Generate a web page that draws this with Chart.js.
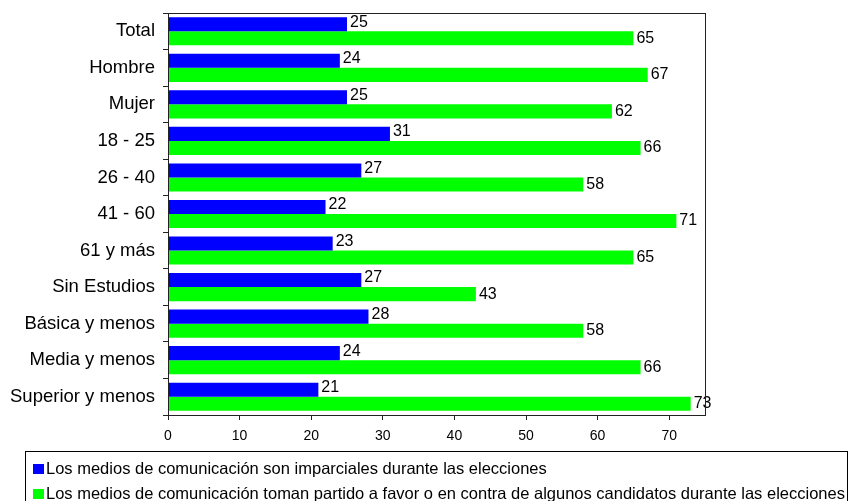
<!DOCTYPE html>
<html>
<head>
<meta charset="utf-8">
<script src="https://cdn.jsdelivr.net/npm/chart.js@4.4.1/dist/chart.umd.min.js"></script>
<style>
  body { margin: 0; background: #fff; }
  #wrap { position: relative; width: 850px; height: 501px; }
  #chart { position: absolute; left: 0; top: 0; }
  #legend {
    position: absolute; left: 25px; top: 451px; width: 823px; height: 52px;
    border: 1px solid #000; box-sizing: border-box;
    font-family: "Liberation Sans", Arial, sans-serif; font-size: 16.5px; color: #000;
    padding-top: 4px;
  }
  #legend div { height: 25px; line-height: 25px; white-space: nowrap; }
  #legend span { display: inline-block; width: 11px; height: 10px; margin: 0 2px 0 7px; }
</style>
</head>
<body>
<div id="wrap">
  <canvas id="chart" width="850" height="501"></canvas>
  <div id="legend"></div>
</div>
<script>
const categories = ['Total', 'Hombre', 'Mujer', '18 - 25', '26 - 40', '41 - 60', '61 y más',
  'Sin Estudios', 'Básica y menos', 'Media y menos', 'Superior y menos'];
const imparciales = [25, 24, 25, 31, 27, 22, 23, 27, 28, 24, 21];
const tomanPartido = [65, 67, 62, 66, 58, 71, 65, 43, 58, 66, 73];
const seriesLabels = [
  'Los medios de comunicación son imparciales durante las elecciones',
  'Los medios de comunicación toman partido a favor o en contra de algunos candidatos durante las elecciones'
];
const seriesColors = ['#0000ff', '#00ff00'];
const xTicks = [0, 10, 20, 30, 40, 50, 60, 70];

const font = '"Liberation Sans", Arial, sans-serif';

// box around the plot area
const plotBorder = {
    id: 'plotBorder',
    afterDraw(chart) {
        const { ctx, chartArea: a } = chart;
        ctx.save();
        ctx.strokeStyle = '#222';
        ctx.lineWidth = 1;
        ctx.strokeRect(Math.round(a.left) + 0.5, Math.round(a.top) + 0.5,
            Math.round(a.right - a.left), Math.round(a.bottom - a.top));
        ctx.restore();
    }
};

// value labels at the end of each bar
const valueLabels = {
    id: 'valueLabels',
    afterDatasetsDraw(chart) {
        const ctx = chart.ctx;
        ctx.save();
        ctx.font = '16px ' + font;
        ctx.fillStyle = '#000';
        ctx.textBaseline = 'middle';
        chart.data.datasets.forEach((ds, i) => {
            chart.getDatasetMeta(i).data.forEach((bar, j) => {
                ctx.fillText(ds.data[j], bar.x + 3, bar.y - (i === 0 ? 2 : 0));
            });
        });
        ctx.restore();
    }
};

new Chart(document.getElementById('chart'), {
    type: 'bar',
    data: {
        labels: categories,
        datasets: [{
            label: seriesLabels[0],
            data: imparciales,
            backgroundColor: seriesColors[0]
        }, {
            label: seriesLabels[1],
            data: tomanPartido,
            backgroundColor: seriesColors[1]
        }]
    },
    options: {
        indexAxis: 'y',
        responsive: false,
        animation: false,
        categoryPercentage: 0.77,
        barPercentage: 1.0,
        layout: { padding: { top: 13, right: 145, left: 0, bottom: 0 } },
        plugins: {
            legend: { display: false },
            tooltip: { enabled: false }
        },
        scales: {
            x: {
                min: 0,
                max: 75,
                afterFit(scale) {
                    scale.height = 86;
                    scale.paddingLeft = 0;
                    scale.paddingRight = 0;
                },
                afterBuildTicks(scale) { scale.ticks = xTicks.map(v => ({ value: v })); },
                border: { color: '#222' },
                grid: { drawOnChartArea: false, tickLength: 5, color: '#222' },
                ticks: { color: '#000', font: { family: font, size: 14 }, padding: 8 }
            },
            y: {
                afterFit(scale) {
                    scale.width = 168;
                    scale.paddingTop = 0;
                    scale.paddingBottom = 0;
                },
                border: { color: '#222' },
                grid: { offset: true, drawOnChartArea: false, tickLength: 5, color: '#222' },
                ticks: { color: '#000', font: { family: font, size: 18.5 }, padding: 8 }
            }
        }
    },
    plugins: [plotBorder, valueLabels]
});

// boxed legend below the chart
const legend = document.getElementById('legend');
seriesLabels.forEach((t, i) => {
    const row = document.createElement('div');
    const sw = document.createElement('span');
    sw.style.background = seriesColors[i];
    row.appendChild(sw);
    row.appendChild(document.createTextNode(t));
    legend.appendChild(row);
});
</script>
</body>
</html>
